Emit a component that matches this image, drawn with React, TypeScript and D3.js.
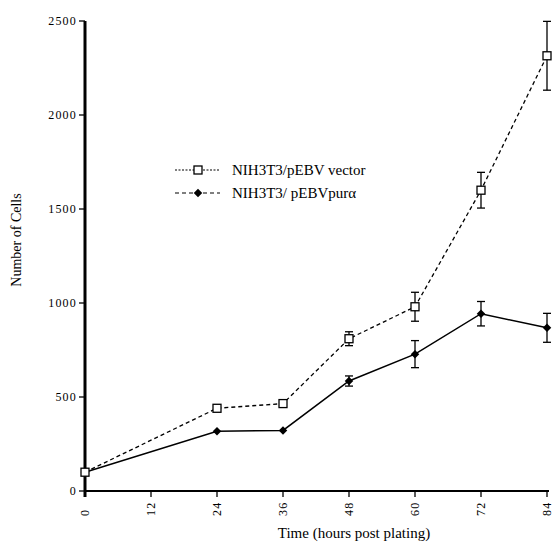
import React from "react";
import * as d3 from "d3";

// hours post plating
const hours = [0, 24, 36, 48, 60, 72, 84];
// NIH3T3/pEBV vector (open squares, dashed)
const vectorCells = [100, 440, 465, 810, 980, 1600, 2315];
const vectorErr = [0, 0, 0, 37, 77, 95, 183];
// NIH3T3/ pEBVpurα (filled diamonds, solid)
const puraCells = [100, 318, 322, 585, 728, 943, 868];
const puraErr = [0, 0, 0, 27, 72, 65, 77];

const xTicks = [0, 12, 24, 36, 48, 60, 72, 84];
const yTicks = [0, 500, 1000, 1500, 2000, 2500];
const legendLabels = ["NIH3T3/pEBV vector", "NIH3T3/ pEBVpurα"];

const W = 553;
const H = 550;
const FONT = "Liberation Serif";

const x = d3.scaleLinear().domain([0, 84]).range([85, 547]);
const y = d3.scaleLinear().domain([0, 2500]).range([491, 21]);

const line = d3
  .line<number>()
  .x((_, i) => x(hours[i]))
  .y((d) => y(d));

const diamond = d3.symbol().type(d3.symbolDiamond2 || d3.symbolDiamond).size(46);

function Txt(props: any) {
  return <text fontFamily={FONT} fill="#000" {...props} />;
}

function ErrorBars({ vals, errs }: { vals: number[]; errs: number[] }) {
  return (
    <g stroke="#000" strokeWidth={1.3}>
      {vals.map((v, i) => {
        if (!errs[i]) return null;
        const cx = x(hours[i]);
        const y1 = y(v + errs[i]);
        const y2 = y(v - errs[i]);
        return (
          <g key={i}>
            <line x1={cx} x2={cx} y1={y1} y2={y2} />
            <line x1={cx - 4} x2={cx + 4} y1={y1} y2={y1} />
            <line x1={cx - 4} x2={cx + 4} y1={y2} y2={y2} />
          </g>
        );
      })}
    </g>
  );
}

function Square({ cx, cy }: { cx: number; cy: number }) {
  return (
    <rect x={cx - 4} y={cy - 4} width={8} height={8} fill="#fff" stroke="#000" strokeWidth={1.3} />
  );
}

export default function App() {
  const y0 = y(0);
  return (
    <svg width={W} height={H} style={{ position: "absolute", left: 0, top: 0, background: "#fff" }}>
      <rect width={W} height={H} fill="#fff" />

      {/* y axis */}
      <line x1={x(0)} x2={x(0)} y1={y(2500)} y2={y0 + 6} stroke="#000" strokeWidth={3} />
      {yTicks.map((t) => (
        <g key={t}>
          <line x1={x(0) - 6} x2={x(0)} y1={y(t)} y2={y(t)} stroke="#000" strokeWidth={1.3} />
          <Txt x={x(0) - 8} y={y(t)} dy="0.35em" textAnchor="end" fontSize={12} letterSpacing={1.2}>
            {t}
          </Txt>
        </g>
      ))}

      {/* x axis */}
      <line x1={x(0)} x2={x(84) + 2} y1={y0} y2={y0} stroke="#000" strokeWidth={2} />
      {xTicks.map((t) => (
        <g key={t}>
          <line x1={x(t)} x2={x(t)} y1={y0} y2={y0 + 6} stroke="#000" strokeWidth={1.3} />
          <Txt
            transform={`translate(${x(t)},516) rotate(-90)`}
            dy="0.35em"
            textAnchor="start"
            fontSize={12}
            letterSpacing={1.2}
          >
            {t}
          </Txt>
        </g>
      ))}

      {/* axis titles */}
      <Txt transform="translate(21,240) rotate(-90)" textAnchor="middle" fontSize={14}>
        Number of Cells
      </Txt>
      <Txt x={354} y={538} textAnchor="middle" fontSize={15}>
        Time (hours post plating)
      </Txt>

      {/* series lines */}
      <path d={line(vectorCells) || ""} fill="none" stroke="#000" strokeWidth={1.3} strokeDasharray="4,3" />
      <path d={line(puraCells) || ""} fill="none" stroke="#000" strokeWidth={1.5} />

      <ErrorBars vals={vectorCells} errs={vectorErr} />
      <ErrorBars vals={puraCells} errs={puraErr} />

      {/* markers */}
      {puraCells.map((v, i) => (
        <path key={"d" + i} d={diamond() || ""} transform={`translate(${x(hours[i])},${y(v)})`} fill="#000" />
      ))}
      {vectorCells.map((v, i) => (
        <Square key={"s" + i} cx={x(hours[i])} cy={y(v)} />
      ))}

      {/* legend */}
      <g>
        <line x1={175} x2={220} y1={170} y2={170} stroke="#000" strokeWidth={1.2} strokeDasharray="2,1.5" />
        <Square cx={198} cy={170} />
        <Txt x={232} y={175} fontSize={15}>
          {legendLabels[0]}
        </Txt>
        <line x1={175} x2={220} y1={193} y2={193} stroke="#000" strokeWidth={1.2} strokeDasharray="4,3" />
        <path d={diamond() || ""} transform="translate(198,193)" fill="#000" />
        <Txt x={232} y={198} fontSize={15}>
          {legendLabels[1]}
        </Txt>
      </g>
    </svg>
  );
}
